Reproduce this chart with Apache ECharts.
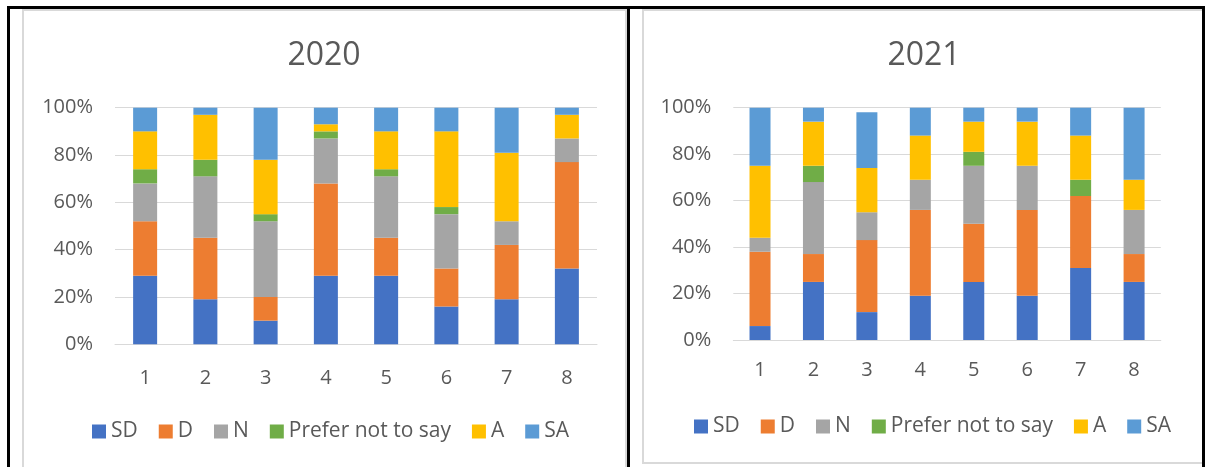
<!DOCTYPE html>
<html>
<head>
<meta charset="utf-8">
<title>Survey responses 2020 / 2021</title>
<script src="https://cdn.jsdelivr.net/npm/echarts@6/dist/echarts.min.js"></script>
<style>
  html, body { margin: 0; padding: 0; background: #ffffff; }
  #chart { width: 1205px; height: 467px; }
</style>
</head>
<body>
<div id="chart"></div>
<script>
// Question numbers along the x axis
const categories = ['1', '2', '3', '4', '5', '6', '7', '8'];
const yTicks = [0, 20, 40, 60, 80, 100];

// Response shares (%) for 2020
const sd2020  = [29, 19, 10, 29, 29, 16, 19, 32];
const d2020   = [23, 26, 10, 39, 16, 16, 23, 45];
const n2020   = [16, 26, 32, 19, 26, 23, 10, 10];
const pns2020 = [6, 7, 3, 3, 3, 3, 0, 0];
const a2020   = [16, 19, 23, 3, 16, 32, 29, 10];
const sa2020  = [10, 3, 22, 7, 10, 10, 19, 3];

// Response shares (%) for 2021
const sd2021  = [6, 25, 12, 19, 25, 19, 31, 25];
const d2021   = [32, 12, 31, 37, 25, 37, 31, 12];
const n2021   = [6, 31, 12, 13, 25, 19, 0, 19];
const pns2021 = [0, 7, 0, 0, 6, 0, 7, 0];
const a2021   = [31, 19, 19, 19, 13, 19, 19, 13];
const sa2021  = [25, 6, 24, 12, 6, 6, 12, 31];

const seriesNames = ['SD', 'D', 'N', 'Prefer not to say', 'A', 'SA'];
const colors = ['#4472C4', '#ED7D31', '#A5A5A5', '#70AD47', '#FFC000', '#5B9BD5'];

const FONT = 'Open Sans';
const TEXT = '#595959';
const GRID = '#D9D9D9';

const data2020 = [sd2020, d2020, n2020, pns2020, a2020, sa2020];
const data2021 = [sd2021, d2021, n2021, pns2021, a2021, sa2021];

function makeSeries(dataSets, idx, barWidth) {
  return dataSets.map((vals, i) => ({
    name: seriesNames[i],
    type: 'bar',
    stack: 'year' + idx,
    xAxisIndex: idx,
    yAxisIndex: idx,
    barWidth: barWidth,
    itemStyle: { color: colors[i] },
    data: vals
  }));
}

function xAxis(idx, margin) {
  return {
    type: 'category',
    gridIndex: idx,
    data: categories,
    axisLine: { lineStyle: { color: GRID, width: 1 } },
    axisTick: { show: false },
    axisLabel: { color: TEXT, fontFamily: FONT, fontSize: 20, margin: margin }
  };
}

function yAxis(idx) {
  return {
    type: 'value',
    gridIndex: idx,
    min: yTicks[0],
    max: yTicks[yTicks.length - 1],
    interval: yTicks[1] - yTicks[0],
    axisLine: { show: false },
    axisTick: { show: false },
    splitLine: { lineStyle: { color: GRID, width: 1 } },
    axisLabel: { color: TEXT, fontFamily: FONT, fontSize: 20, margin: 22, formatter: '{value}%' }
  };
}

function legend(left, top) {
  return {
    data: seriesNames,
    left: left,
    top: top,
    icon: 'rect',
    itemWidth: 14,
    itemHeight: 14,
    itemGap: 21,
    selectedMode: false,
    textStyle: { color: TEXT, fontFamily: FONT, fontSize: 21 }
  };
}

function title(text, centerX) {
  return {
    text: text,
    left: centerX,
    top: 35,
    textAlign: 'center',
    textStyle: { color: TEXT, fontFamily: FONT, fontSize: 32, fontWeight: 'normal' }
  };
}

// Panel frames: black page rules and light grey chart borders
const frames = [
  { type: 'rect', shape: { x: 7, y: 6, width: 1198, height: 3 }, style: { fill: '#000' }, z: 10 },
  { type: 'rect', shape: { x: 7, y: 6, width: 3, height: 461 }, style: { fill: '#000' }, z: 10 },
  { type: 'rect', shape: { x: 627, y: 6, width: 3, height: 461 }, style: { fill: '#000' }, z: 10 },
  { type: 'rect', shape: { x: 1202, y: 6, width: 3, height: 461 }, style: { fill: '#000' }, z: 10 },
  { type: 'rect', shape: { x: 22, y: 9, width: 2, height: 458 }, style: { fill: GRID }, z: 9 },
  { type: 'rect', shape: { x: 22, y: 9, width: 605, height: 2 }, style: { fill: GRID }, z: 9 },
  { type: 'rect', shape: { x: 625, y: 9, width: 2, height: 458 }, style: { fill: GRID }, z: 9 },
  { type: 'rect', shape: { x: 642, y: 9, width: 2, height: 454 }, style: { fill: GRID }, z: 9 },
  { type: 'rect', shape: { x: 642, y: 9, width: 560, height: 2 }, style: { fill: GRID }, z: 9 },
  { type: 'rect', shape: { x: 642, y: 462, width: 560, height: 2 }, style: { fill: GRID }, z: 9 }
];

const chart = echarts.init(document.getElementById('chart'), null, { renderer: 'canvas' });
chart.setOption({
  animation: false,
  backgroundColor: '#ffffff',
  title: [title('2020', 319), title('2021', 919)],
  legend: [legend(87, 416), legend(689, 411)],
  grid: [
    { left: 115, top: 107.7, width: 482, height: 236.6 },
    { left: 733.3, top: 107.7, width: 427.5, height: 232.3 }
  ],
  xAxis: [xAxis(0, 24), xAxis(1, 20)],
  yAxis: [yAxis(0), yAxis(1)],
  series: makeSeries(data2020, 0, 24).concat(makeSeries(data2021, 1, 21)),
  graphic: frames
});
</script>
</body>
</html>
